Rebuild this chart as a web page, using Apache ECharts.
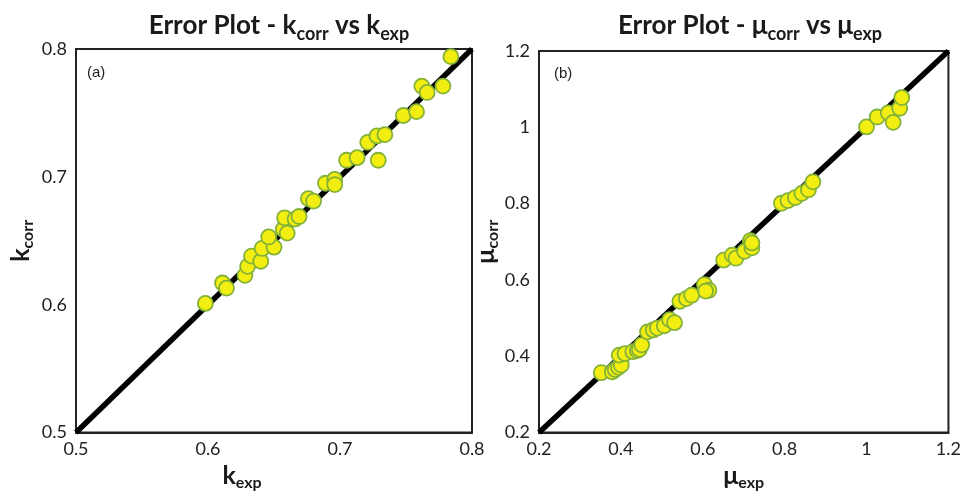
<!DOCTYPE html>
<html>
<head>
<meta charset="utf-8">
<script src="https://cdn.jsdelivr.net/npm/echarts@6/dist/echarts.min.js"></script>
<style>
html,body{margin:0;padding:0;background:#fff;}
#chart{width:964px;height:496px;}
</style>
</head>
<body>
<div id="chart"></div>
<script>
// ---- Panel (a): k ----
const kExp  = [0.598,0.611,0.614,0.628,0.630,0.633,0.640,0.641,0.650,0.646,0.657,0.660,0.658,0.666,0.669,0.676,0.680,0.689,0.696,0.696,0.705,0.713,0.729,0.721,0.728,0.734,0.748,0.758,0.762,0.766,0.778,0.784];
const kCorr = [0.601,0.617,0.613,0.623,0.630,0.638,0.634,0.644,0.645,0.653,0.659,0.656,0.668,0.667,0.669,0.683,0.681,0.695,0.698,0.694,0.713,0.715,0.713,0.727,0.732,0.733,0.748,0.751,0.771,0.766,0.771,0.794];
const kRange = [0.5, 0.8];
const kTicks = [0.5, 0.6, 0.7, 0.8];

// ---- Panel (b): mu ----
const muExp  = [0.352,0.379,0.386,0.394,0.401,0.396,0.410,0.429,0.440,0.445,0.451,0.465,0.479,0.489,0.506,0.519,0.531,0.544,0.560,0.573,0.604,0.615,0.607,0.651,0.672,0.681,0.702,0.716,0.720,0.720,0.792,0.808,0.826,0.842,0.858,0.869,1.000,1.026,1.053,1.065,1.081,1.086];
const muCorr = [0.357,0.359,0.365,0.371,0.377,0.403,0.407,0.412,0.415,0.418,0.430,0.464,0.469,0.474,0.480,0.496,0.488,0.544,0.551,0.560,0.588,0.573,0.571,0.652,0.665,0.657,0.675,0.703,0.684,0.697,0.801,0.808,0.816,0.827,0.836,0.857,1.001,1.027,1.038,1.013,1.050,1.078];
const muRange = [0.2, 1.2];
const muTicks = [0.2, 0.4, 0.6, 0.8, 1.0, 1.2];

const titleA = ['Error Plot - k', 'corr', ' vs k', 'exp'];
const titleB = ['Error Plot - \u03bc', 'corr', ' vs \u03bc', 'exp'];
const panelLabels = ['(a)', '(b)'];
const nameXA = ['k', 'exp'], nameYA = ['k', 'corr'];
const nameXB = ['\u03bc', 'exp'], nameYB = ['\u03bc', 'corr'];

const FONT = 'Lato';
const pairs = (xs, ys) => xs.map((x, i) => [x, ys[i]]);
const richT = (p) => '{b|' + p[0] + '}{s|' + p[1] + '}{b|' + p[2] + '}{s|' + p[3] + '}';
const richN = (p) => '{b|' + p[0] + '}{s|' + p[1] + '}';

const titleRich = {
  b: { fontFamily: FONT, fontWeight: 'bold', fontSize: 26, color: '#1a1a1a' },
  s: { fontFamily: FONT, fontWeight: 'bold', fontSize: 18, color: '#1a1a1a', padding: [16, 0, 0, 0] }
};
const nameRich = {
  b: { fontFamily: FONT, fontWeight: 'bold', fontSize: 25, color: '#1a1a1a' },
  s: { fontFamily: FONT, fontWeight: 'bold', fontSize: 16, color: '#1a1a1a', padding: [14, 0, 0, 0] }
};

const tickFmt = (v) => String(Math.round(v * 10) / 10);

function makeX(idx, range, ticks, nameParts, extra) {
  return Object.assign({
    type: 'value', gridIndex: idx, min: range[0], max: range[1],
    interval: ticks[1] - ticks[0],
    name: richN(nameParts), nameLocation: 'middle', nameGap: 24,
    nameTextStyle: { rich: nameRich },
    axisLine: { show: true, onZero: false, lineStyle: { color: '#222', width: 2 } },
    axisTick: { show: false }, splitLine: { show: false },
    axisLabel: { fontFamily: FONT, fontSize: 18, color: '#222', margin: 8, formatter: tickFmt }
  }, extra || {});
}
function makeY(idx, range, ticks, nameParts, gap) {
  return {
    type: 'value', gridIndex: idx, min: range[0], max: range[1],
    interval: ticks[1] - ticks[0],
    name: richN(nameParts), nameLocation: 'middle', nameGap: gap,
    nameTextStyle: { rich: nameRich },
    axisLine: { show: true, onZero: false, lineStyle: { color: '#222', width: 2 } },
    axisTick: { show: false }, splitLine: { show: false },
    axisLabel: { fontFamily: FONT, fontSize: 18, color: '#222', margin: 9, formatter: tickFmt }
  };
}

const pointStyle = { color: '#f2ee12', borderColor: '#84b238', borderWidth: 1.8, opacity: 1 };

const option = {
  backgroundColor: '#ffffff',
  animation: false,
  title: [
    { text: richT(titleA), left: 274, top: 4, textAlign: 'center', textStyle: { rich: titleRich } },
    { text: richT(titleB), left: 745, top: 4, textAlign: 'center', textStyle: { rich: titleRich } },
    { text: panelLabels[0], left: 82, top: 60, textStyle: { fontFamily: 'Liberation Sans', fontWeight: 'normal', fontSize: 15, color: '#222' } },
    { text: panelLabels[1], left: 549, top: 61, textStyle: { fontFamily: 'Liberation Sans', fontWeight: 'normal', fontSize: 15, color: '#222' } }
  ],
  grid: [
    { left: 76, top: 49, width: 396, height: 393, show: true, borderColor: '#222', borderWidth: 2, backgroundColor: 'transparent' },
    { left: 539, top: 51, width: 412, height: 392, show: true, borderColor: '#222', borderWidth: 2, backgroundColor: 'transparent' }
  ],
  xAxis: [
    makeX(0, kRange, kTicks, nameXA, { nameTextStyle: { rich: nameRich, padding: [0, 64, 0, 0] } }),
    makeX(1, muRange, muTicks, nameXB)
  ],
  yAxis: [
    makeY(0, kRange, kTicks, nameYA, 40),
    makeY(1, muRange, muTicks, nameYB, 38)
  ],
  series: [
    { type: 'line', xAxisIndex: 0, yAxisIndex: 0, data: [[kRange[0], kRange[0]], [kRange[1], kRange[1]]],
      symbol: 'none', lineStyle: { color: '#000', width: 5.5 }, z: 2, silent: true },
    { type: 'scatter', xAxisIndex: 0, yAxisIndex: 0, data: pairs(kExp, kCorr),
      symbolSize: 15, itemStyle: pointStyle, z: 3 },
    { type: 'line', xAxisIndex: 1, yAxisIndex: 1, data: [[muRange[0], muRange[0]], [muRange[1], muRange[1]]],
      symbol: 'none', lineStyle: { color: '#000', width: 5.5 }, z: 2, silent: true },
    { type: 'scatter', xAxisIndex: 1, yAxisIndex: 1, data: pairs(muExp, muCorr),
      symbolSize: 15, itemStyle: pointStyle, z: 3 }
  ]
};

const chart = echarts.init(document.getElementById('chart'), null, { renderer: 'canvas' });
chart.setOption(option);
</script>
</body>
</html>
